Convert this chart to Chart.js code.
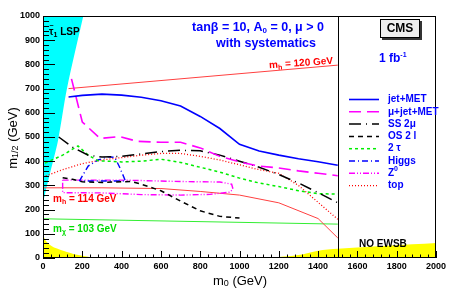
<!DOCTYPE html>
<html>
<head>
<meta charset="utf-8">
<script src="https://cdn.jsdelivr.net/npm/chart.js@4/dist/chart.umd.min.js"></script>
<style>
html, body { margin: 0; padding: 0; background: #fff; }
</style>
</head>
<body>
<canvas id="graph1" width="463" height="289"></canvas>
<script>
// [m0, m1/2] in GeV
var jetMet = [[130,665],[200,672],[300,677],[400,673],[500,664],[600,650],[700,628],[800,585],[900,535],[1000,470],[1100,442],[1200,425],[1300,410],[1400,398],[1500,383]];
var muJetMet = [[145,740],[200,562],[290,494],[390,502],[480,482],[600,478],[700,478],[800,455],[900,420],[1000,397],[1100,380],[1200,372],[1300,360],[1400,350],[1500,340]];
var ss2mu = [[80,500],[150,458],[230,425],[300,417],[400,420],[500,430],[600,440],[700,445],[800,443],[900,425],[1000,400],[1100,375],[1200,345],[1300,310],[1400,270],[1500,228]];
var os2l = [[100,332],[150,325],[200,315],[300,312],[400,315],[450,316],[500,305],[600,278],[700,235],[800,195],[900,172],[1000,165]];
var twoTau = [[10,392],[100,425],[178,463],[230,425],[280,402],[400,397],[500,400],[600,408],[700,395],[800,375],[900,355],[1000,330],[1100,310],[1200,295],[1300,278],[1400,266],[1500,264]];
var higgs = [[185,318],[230,380],[280,405],[330,418],[365,416],[390,375],[420,318],[185,318]];
var zZero = [[100,322],[400,322],[700,316],[900,314],[960,305],[967,285],[950,272],[850,263],[700,260],[500,262],[300,269],[100,270],[100,322]];
var top6 = [[0,335],[100,365],[200,390],[300,405],[400,415],[500,425],[600,432],[700,432],[800,420],[900,405],[1000,385],[1100,365],[1200,350],[1300,300],[1400,230],[1500,160]];

var mh120 = [[130,700],[1500,797]];
var mh114 = [[0,290],[300,290],[600,287],[800,275],[1000,260],[1200,228],[1400,163],[1500,83]];
var mchi103 = [[0,162],[1500,140]];

var stauLsp = [[0,227],[15,281],[36,351],[77,488],[122,700],[205,1000]];
var noEwsbLow = [[0,95],[15,70],[36,54],[60,42],[122,25],[180,12],[265,0]];
var noEwsbHigh = [[1150,0],[1300,12],[1400,30],[1500,38],[2000,62]];

var xTicks = [0, 2000, 200];
var yTicks = [0, 1000, 100];

function pts(arr) {
  return arr.map(function(p) { return {x: p[0], y: p[1]}; });
}

function curve(label, arr, color, width, dash) {
  return {
    label: label, data: pts(arr), borderColor: color, borderWidth: width,
    borderDash: dash, pointRadius: 0, fill: false, tension: 0, inLegend: true
  };
}

function plainLine(arr, color, width) {
  return {label: '', data: pts(arr), borderColor: color, borderWidth: width, pointRadius: 0, fill: false, tension: 0};
}

function area(arr, color, fillTo) {
  return {label: '', data: pts(arr), borderColor: color, borderWidth: 0, backgroundColor: color, pointRadius: 0, fill: fillTo, tension: 0.3, order: 10};
}

function richText(ctx, parts, x, y, align, color) {
  var w = 0;
  parts.forEach(function(p) { ctx.font = p[1]; w += ctx.measureText(p[0]).width; });
  var cx = align == 'center' ? x - w / 2 : (align == 'right' ? x - w : x);
  ctx.fillStyle = color;
  ctx.textBaseline = 'middle';
  ctx.textAlign = 'left';
  parts.forEach(function(p) {
    ctx.font = p[1];
    ctx.fillText(p[0], cx, y + (p[2] || 0));
    cx += ctx.measureText(p[0]).width;
  });
}

var F = '"Liberation Sans", Arial, sans-serif';
function bf(s) { return 'bold ' + s + 'px ' + F; }

var extras = {
  id: 'extras',
  afterDraw: function(chart) {
    var ctx = chart.ctx, a = chart.chartArea, xs = chart.scales.x, ys = chart.scales.y;
    ctx.save();
    ctx.strokeStyle = '#000';
    ctx.lineWidth = 1;
    ctx.setLineDash([]);
    ctx.strokeRect(a.left + 0.5, a.top + 0.5, a.right - a.left - 1, a.bottom - a.top - 1);

    // separator at m0 = 1500
    var xs15 = Math.round(xs.getPixelForValue(1500)) + 0.5;
    ctx.beginPath(); ctx.moveTo(xs15, a.top); ctx.lineTo(xs15, a.bottom); ctx.stroke();

    // inward ticks, ROOT style
    ctx.beginPath();
    for (var v = 0; v <= 2000; v += 40) {
      var px = Math.round(xs.getPixelForValue(v)) + 0.5;
      var len = v % 200 == 0 ? 7 : 3.5;
      ctx.moveTo(px, a.bottom); ctx.lineTo(px, a.bottom - len);
    }
    for (var w = 0; w <= 1000; w += 20) {
      var py = Math.round(ys.getPixelForValue(w)) + 0.5;
      var l2 = w % 100 == 0 ? 12 : 6;
      ctx.moveTo(a.left, py); ctx.lineTo(a.left + l2, py);
    }
    ctx.stroke();

    // axis titles
    richText(ctx, [['m', '13px ' + F], ['0', '9px ' + F, 3], [' (GeV)', '13px ' + F]], 240, 281, 'center', '#000');
    ctx.save();
    ctx.translate(13, 138);
    ctx.rotate(-Math.PI / 2);
    richText(ctx, [['m', '13px ' + F], ['1/2', '9px ' + F, 3], [' (GeV)', '13px ' + F]], 0, 0, 'center', '#000');
    ctx.restore();

    // labels
    richText(ctx, [['tanβ = 10, A', bf(12.5)], ['0', bf(8), 3], [' = 0, μ > 0', bf(12.5)]], 258, 28, 'center', '#0000ff');
    richText(ctx, [['with systematics', bf(12.5)]], 266, 44, 'center', '#0000ff');

    ctx.save();
    ctx.translate(333, 61);
    ctx.rotate(-0.07);
    richText(ctx, [['m', bf(10)], ['h', bf(7), 3], [' = 120 GeV', bf(10)]], 0, 0, 'right', '#ff0000');
    ctx.restore();
    richText(ctx, [['m', bf(10)], ['h', bf(7), 3], [' = 114 GeV', bf(10)]], 53, 199, 'left', '#ff0000');
    richText(ctx, [['m', bf(10)], ['χ', bf(7), 3], [' = 103 GeV', bf(10)]], 53, 229, 'left', '#00dd00');
    richText(ctx, [['NO EWSB', bf(10)]], 359, 244, 'left', '#000');

    richText(ctx, [['τ', bf(10)], ['1', bf(7), 3], [' LSP', bf(10)]], 49, 32, 'left', '#000');
    richText(ctx, [['~', bf(7)]], 49.5, 26, 'left', '#000');

    // CMS box
    ctx.fillStyle = '#333';
    ctx.fillRect(382, 21, 40, 19);
    ctx.fillStyle = '#eeeeee';
    ctx.fillRect(380, 19, 40, 19);
    ctx.strokeStyle = '#000';
    ctx.strokeRect(380.5, 19.5, 39, 18);
    richText(ctx, [['CMS', bf(12)]], 400, 29, 'center', '#000');
    richText(ctx, [['1 fb', bf(12)], ['-1', bf(7), -4]], 379, 59, 'left', '#0000ff');

    // legend, styles taken from the datasets
    var row = 0;
    chart.data.datasets.forEach(function(ds) {
      if (!ds.inLegend) return;
      var y = 99.5 + row * 12.3;
      ctx.strokeStyle = ds.borderColor;
      ctx.lineWidth = ds.borderWidth;
      ctx.setLineDash(ds.borderDash || []);
      ctx.beginPath(); ctx.moveTo(349, y); ctx.lineTo(379, y); ctx.stroke();
      ctx.setLineDash([]);
      if (ds.label == 'Z0') {
        richText(ctx, [['Z', bf(10)], ['0', bf(7), -4]], 388, y, 'left', '#0000ff');
      } else {
        richText(ctx, [[ds.label, bf(10)]], 388, y, 'left', '#0000ff');
      }
      row++;
    });
    ctx.restore();
  }
};

var ctx = document.getElementById('graph1').getContext('2d');

var datasets = [
  curve('jet+MET', jetMet, '#0000ff', 1.6, []),
  curve('μ+jet+MET', muJetMet, '#ff00ff', 1.6, [12, 6]),
  curve('SS 2μ', ss2mu, '#000000', 1.5, [12, 5, 1, 5]),
  curve('OS 2 l', os2l, '#000000', 1.5, [5, 4]),
  curve('2 τ', twoTau, '#00ee00', 1.5, [3, 3]),
  curve('Higgs', higgs, '#0000ff', 1.4, [6, 3, 1, 3]),
  curve('Z0', zZero, '#ff00ff', 1.4, [6, 2, 1, 2, 1, 2]),
  curve('top', top6, '#ff0000', 1.3, [1, 2]),
  plainLine(mh120, '#ff4040', 1),
  plainLine(mh114, '#ff4040', 1),
  plainLine(mchi103, '#33ee33', 1),
  area(stauLsp, '#00ffff', 'end'),
  area(noEwsbLow, '#ffff00', 'origin'),
  area(noEwsbHigh, '#ffff00', 'origin')
];

function plainTick(v) { return String(v); }

var graph1 = new Chart(ctx, {
  type: 'line',
  data: { datasets: datasets },
  options: {
    responsive: false,
    animation: false,
    layout: { padding: { top: 16, right: 27, left: 0, bottom: 0 } },
    plugins: {
      legend: { display: false },
      tooltip: { enabled: false }
    },
    scales: {
      x: {
        type: 'linear', min: xTicks[0], max: xTicks[1],
        grid: { display: false, drawTicks: false },
        border: { display: false },
        ticks: { stepSize: xTicks[2], autoSkip: false, maxRotation: 0, padding: 3, color: '#000', callback: plainTick, font: { family: F, size: 9, weight: 'bold' } },
        afterFit: function(s) { s.height = 31; }
      },
      y: {
        type: 'linear', min: yTicks[0], max: yTicks[1],
        grid: { display: false, drawTicks: false },
        border: { display: false },
        ticks: { stepSize: yTicks[2], autoSkip: false, padding: 3, color: '#000', callback: plainTick, font: { family: F, size: 9, weight: 'bold' } },
        afterFit: function(s) { s.width = 43; }
      }
    }
  },
  plugins: [extras]
});
</script>
</body>
</html>
